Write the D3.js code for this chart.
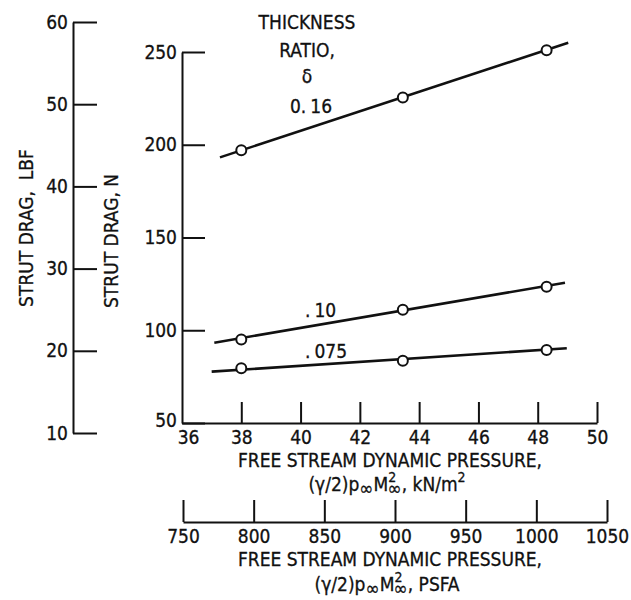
<!DOCTYPE html>
<html>
<head>
<meta charset="utf-8">
<script src="https://cdn.jsdelivr.net/npm/d3@7/dist/d3.min.js"></script>
<style>
  html, body { margin: 0; padding: 0; background: #fff; }
  svg { display: block; }
  text {
    font-family: "Liberation Sans Narrow", "DejaVu Sans Condensed", "Liberation Sans", sans-serif;
    fill: #111;
    stroke: #111;
    stroke-width: 0.3px;
  }
</style>
</head>
<body>
<svg id="chart" width="631" height="600"></svg>
<script>
// Free-stream dynamic pressure at which the struts were run, kN/m^2
const pressureKn = [38.0, 43.45, 48.3];

// Measured strut drag, N, for each thickness ratio
const drag016 = [197, 225.5, 251];
const drag010 = [95, 111, 123.5];
const drag0075 = [79.5, 83.6, 89.4];

// Faired lines through each set: [start pressure, end pressure], [start drag, end drag]
const fair016 = { p: [37.28, 49.03], d: [193.2, 255] };
const fair010 = { p: [37.09, 48.92], d: [93.3, 125.6] };
const fair0075 = { p: [37.0, 48.98], d: [77.7, 90.3] };

// Axis ticks
const tickN = [50, 100, 150, 200, 250];
const tickLbf = [10, 20, 30, 40, 50, 60];
const tickKn = [36, 38, 40, 42, 44, 46, 48, 50];
const tickPsf = [750, 800, 850, 900, 950, 1000, 1050];

const series = [
  { label: "0.16", values: drag016, fair: fair016 },
  { label: ".10", values: drag010, fair: fair010 },
  { label: ".075", values: drag0075, fair: fair0075 }
];

const svg = d3.select("#chart");
const FS = 19;

const x = d3.scaleLinear().domain([36, 50]).range([182, 597]);
const y = d3.scaleLinear().domain([50, 250]).range([423, 52]);
const yLbf = d3.scaleLinear().domain([10, 60]).range([433, 22]);
const xPsf = d3.scaleLinear().domain([750, 1050]).range([183, 607]);

function styleAxis(g) {
  g.selectAll("path.domain").attr("stroke", "#111").attr("stroke-width", 2);
  g.selectAll(".tick line").attr("stroke", "#111").attr("stroke-width", 2);
  g.selectAll(".tick text")
    .attr("font-family", '"Liberation Sans Narrow", "DejaVu Sans Condensed", sans-serif')
    .attr("font-size", FS).attr("fill", "#111");
}

// Drag in pounds-force (outer left scale)
svg.append("g")
  .attr("transform", "translate(73,0)")
  .call(d3.axisLeft(yLbf).tickValues(tickLbf).tickSize(-24).tickSizeOuter(0).tickPadding(5))
  .call(styleAxis);

// Drag in newtons
const gy = svg.append("g")
  .attr("transform", "translate(182,0)")
  .call(d3.axisLeft(y).tickValues(tickN).tickSize(-23).tickSizeOuter(0).tickPadding(5))
  .call(styleAxis);
gy.selectAll(".tick text").filter(d => d === 50).attr("dy", "0.2em");

// Dynamic pressure, kN/m^2
const gx = svg.append("g")
  .attr("transform", "translate(0,423)")
  .call(d3.axisBottom(x).tickValues(tickKn).tickSize(-21).tickSizeOuter(0).tickPadding(8))
  .call(styleAxis);
gx.selectAll(".tick").filter(d => d === 36).select("line").remove();
gx.selectAll(".tick text").filter(d => d === 36).attr("dx", 6);

// Dynamic pressure, lb/ft^2
svg.append("g")
  .attr("transform", "translate(0,522)")
  .call(d3.axisBottom(xPsf).tickValues(tickPsf).tickFormat(d3.format("d"))
    .tickSize(-22).tickSizeOuter(0).tickPadding(8))
  .call(styleAxis);

// Axis titles
function vTitle(cx, cy, str) {
  svg.append("g")
    .attr("transform", `translate(${cx},${cy}) rotate(-90)`)
    .append("text")
    .attr("text-anchor", "middle")
    .attr("font-size", FS)
    .attr("xml:space", "preserve")
    .text(str);
}
vTitle(33, 228, "STRUT DRAG,  LBF");
vTitle(118, 241, "STRUT DRAG, N");

function hTitle(cy, str) {
  svg.append("text")
    .attr("x", 390).attr("y", cy)
    .attr("text-anchor", "middle")
    .attr("font-size", FS)
    .attr("xml:space", "preserve")
    .text(str);
}
function formulaTitle(cy, unit, unitSup) {
  const t = svg.append("text")
    .attr("x", 387).attr("y", cy)
    .attr("text-anchor", "middle")
    .attr("font-size", FS);
  t.append("tspan").text("(\u03B3/2)p");
  t.append("tspan").attr("font-size", 19).attr("dy", 4).text("\u221E");
  t.append("tspan").attr("dy", -4).text("M");
  t.append("tspan").attr("font-size", 14).attr("dy", -9).text("2");
  t.append("tspan").attr("font-size", 19).attr("dx", -9).attr("dy", 13).text("\u221E");
  t.append("tspan").attr("dy", -4).text(", " + unit);
  if (unitSup) t.append("tspan").attr("font-size", 14).attr("dy", -9).text(unitSup);
}
hTitle(467, "FREE STREAM DYNAMIC PRESSURE,");
formulaTitle(491, "kN/m", "2");
hTitle(566, "FREE STREAM DYNAMIC PRESSURE,");
formulaTitle(591, "PSFA", null);

// Faired lines and data points
const line = d3.line().x(d => x(d[0])).y(d => y(d[1]));
series.forEach(s => {
  const pts = s.fair.p.map((p, i) => [p, s.fair.d[i]]);
  svg.append("path")
    .attr("d", line(pts))
    .attr("fill", "none")
    .attr("stroke", "#111")
    .attr("stroke-width", 2.6);
  svg.selectAll(null)
    .data(s.values.map((v, i) => [pressureKn[i], v]))
    .enter().append("circle")
    .attr("cx", d => x(d[0]))
    .attr("cy", d => y(d[1]))
    .attr("r", 5)
    .attr("fill", "#fff")
    .attr("stroke", "#111")
    .attr("stroke-width", 2);
});

// Thickness-ratio key and line labels
const key = ["THICKNESS", "RATIO,", "\u03B4"];
const keyY = [29, 57, 83];
key.forEach((k, i) => {
  svg.append("text")
    .attr("x", 307).attr("y", keyY[i])
    .attr("text-anchor", "middle")
    .attr("font-size", FS)
    .text(k);
});

function ratioLabel(xs, ys, lead, rest) {
  const t = svg.append("text").attr("x", xs).attr("y", ys).attr("font-size", FS);
  t.append("tspan").text(lead);
  t.append("tspan").attr("dx", 4).text(rest);
}
ratioLabel(290, 113, "0.", "16");
ratioLabel(305, 317, ".", "10");
ratioLabel(305, 358, ".", "075");
</script>
</body>
</html>
